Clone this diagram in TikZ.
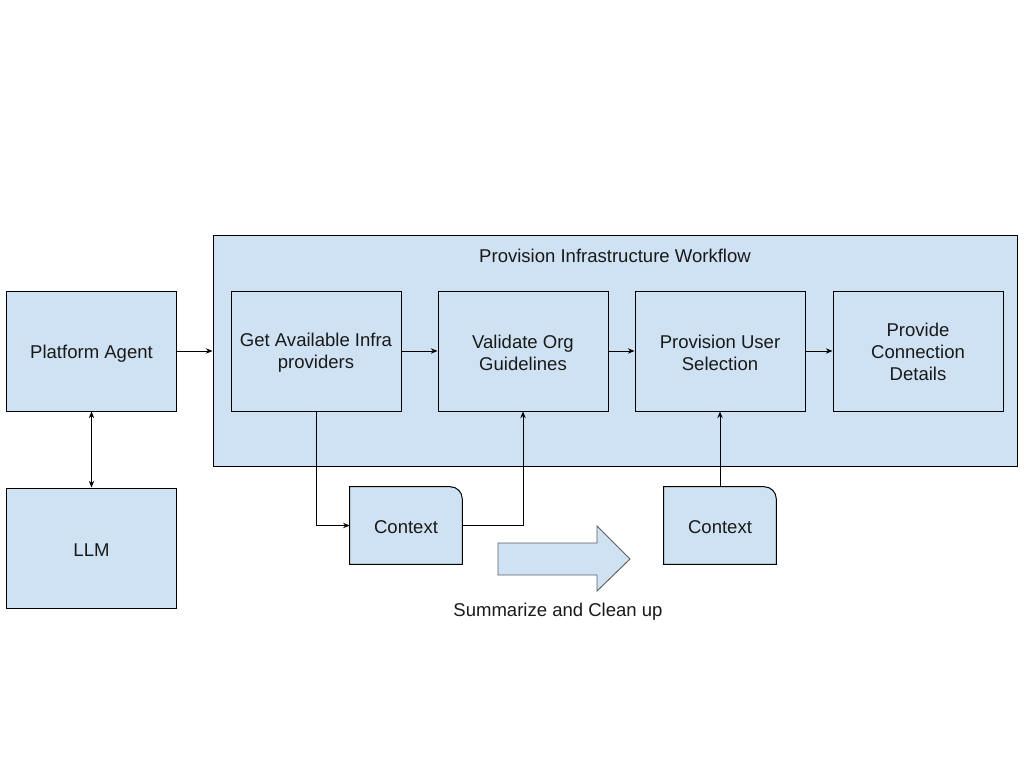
\documentclass[tikz,border=0pt]{standalone}
\usepackage{fontspec}
\setmainfont{Liberation Sans}
\usetikzlibrary{arrows.meta}
\definecolor{boxfill}{HTML}{CFE2F3}
\definecolor{arrowedge}{HTML}{5F5F5F}
\begin{document}
\begin{tikzpicture}[x=0.75pt,y=-0.75pt,
  every node/.style={font=\fontsize{13.9}{16.5}\selectfont, text=black!90},
  box/.style={draw=black, fill=boxfill, line width=0.75pt, minimum width=127.5pt, minimum height=90pt, inner sep=0pt},
  lbl/.style={align=center, yshift=-1.9pt, inner sep=0pt},
  lbltwo/.style={align=center, yshift=-1.2pt, inner sep=0pt},
  lblthree/.style={align=center, yshift=-0.4pt, inner sep=0pt},
  ctx/.style={minimum width=84pt, minimum height=57.75pt, inner sep=0pt},
  conn/.style={draw=black, line width=0.75pt, -{Stealth[length=5pt,width=4pt]}}
]
\useasboundingbox (0,0) rectangle (1024,768);
\fill[white] (0,0) rectangle (1024,768);

% container
\node[draw=black, fill=boxfill, line width=0.75pt, minimum width=603pt, minimum height=173.25pt, inner sep=0pt] (wf) at (615,350.5) {};
\node (wftitle) at (615,256) {Provision Infrastructure Workflow};

\node[box, label={[lbl]center:Platform Agent}] (pa) at (91.5,351) {};
\node[box, label={[lbl]center:LLM}] (llm) at (91.5,548) {};
\node[box, label={[lbltwo]center:Get Available Infra\\providers}] (get) at (316,351) {};
\node[box, label={[lbltwo]center:Validate Org\\Guidelines}] (val) at (523,351) {};
\node[box, label={[lbltwo]center:Provision User\\Selection}] (prov) at (720,351) {};
\node[box, label={[lblthree]center:Provide\\Connection\\Details}] (conn) at (918,351) {};

% context shapes
\node[ctx] (c1) at (406,525.5) {};
\node[ctx] (c2) at (720,525.5) {};
\foreach \c in {c1,c2}{
  \draw[fill=boxfill, line width=0.75pt] (\c.south west) -- (\c.north west) -- ([xshift=-9pt]\c.north east) arc[start angle=90,end angle=0,radius=9pt] -- (\c.south east) -- cycle;
  \node[inner sep=0pt] at ([yshift=-1pt]\c.center) {Context};
}

% big arrow
\draw[fill=boxfill, draw=arrowedge, line width=0.7pt] (498,543) -- (597,543) -- (597,526) -- (630,559) -- (597,591) -- (597,575) -- (498,575) -- cycle;
\node (sum) at (558,612) {Summarize and Clean up};

% connectors
\draw[conn] (pa.east) -- (pa.east -| wf.west);
\draw[draw=black, line width=0.75pt, {Stealth[length=5pt,width=4pt]}-{Stealth[length=5pt,width=4pt]}] (pa.south) -- (llm.north);
\draw[conn] (get.east) -- (val.west);
\draw[conn] (val.east) -- (prov.west);
\draw[conn] (prov.east) -- (conn.west);
\draw[conn] (get.south) |- (c1.west);
\draw[conn] (c1.east) -| (val.south);
\draw[conn] (c2.north) -- (prov.south);
\end{tikzpicture}
\end{document}
